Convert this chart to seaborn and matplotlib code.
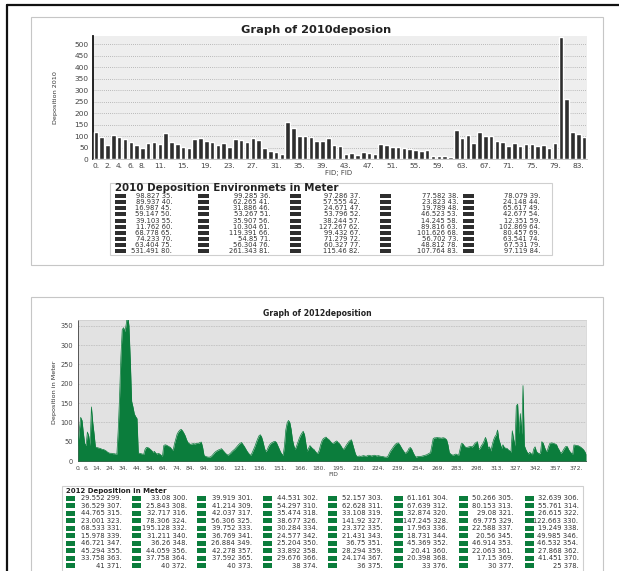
import matplotlib
matplotlib.use("Agg")
import matplotlib.pyplot as plt
from matplotlib.patches import Rectangle
from matplotlib.lines import Line2D
import pandas as pd
import seaborn as sns

# ---------------------------------------------------------------- data
# 2010 deposition per FID (0-84)
dep2010 = [117, 96, 59, 103, 96, 87, 72, 59, 49, 71,
           74, 65, 112, 75, 67, 51, 48, 86, 90, 77,
           74, 59, 71, 51, 88, 84, 75, 93, 83, 46,
           36, 32, 23, 162, 136,
           98.827, 99.285, 97.286, 77.582, 78.079,
           89.937, 62.265, 57.555, 23.823, 24.148,
           16.987, 31.886, 24.671, 19.789, 65.617,
           59.147, 53.267, 53.796, 46.523, 42.677,
           39.103, 35.907, 38.244, 14.245, 12.351,
           11.762, 10.304, 127.267, 89.816, 102.869,
           68.778, 119.391, 99.432, 101.626, 80.457,
           74.233, 54.85, 71.279, 56.702, 63.541,
           63.404, 56.304, 60.327, 48.812, 67.531,
           531.491, 261.343, 115.46, 107.764, 97.119]
ticks2010 = [0, 2, 4, 6, 8, 11, 15, 19, 23, 27, 31, 35, 39, 43, 47, 51,
             55, 59, 63, 67, 71, 75, 79, 83]
legend2010_first = 35

# 2012 deposition per FID (0-379)
dep2012 = [
    40, 80, 113, 105, 72, 45, 40, 75, 65, 40,
    140, 100, 70, 36, 35, 34, 33, 32, 30, 30,
    28, 26, 23, 21, 20, 20, 19, 19, 18, 18,
    80, 165, 270, 340, 345, 335, 355, 380, 350, 262,
    155, 140, 122, 115, 110, 20, 20, 19, 18, 17,
    30, 35, 35, 33, 30, 27, 22, 25, 20, 18,
    20, 18, 15, 12, 40, 42, 41, 39, 37, 35,
    30, 28, 45, 58, 70, 76, 80, 82, 78, 72,
    65, 55, 48, 45, 43, 44, 45, 44, 45, 46,
    46, 48, 49, 35, 15, 12, 11, 10, 10, 11,
    14, 18, 22, 25, 27, 29, 30, 32, 28, 24,
    20, 17, 15, 18, 21, 25, 28, 31, 35, 39,
    43, 46, 48, 43, 38, 32, 26, 21, 17, 15,
    22, 30, 38, 48, 57, 65, 68, 62, 50, 35,
    24, 28, 36, 42, 46, 48, 50, 51, 48, 40,
    32, 24, 18, 15, 38, 80, 98, 105, 100, 82,
    55, 40, 30, 38, 48, 58, 66, 72, 77, 68,
    45, 25, 33, 40, 36, 32, 30, 25, 21, 20,
    28, 42, 52, 58, 60, 62, 58, 56, 52, 48,
    45, 47, 50, 52, 48, 45, 40, 34, 30, 34,
    40, 45, 50, 53, 55, 42, 30, 18, 12, 12,
    13, 12, 13, 14, 13, 12, 14, 15, 14, 13,
    14, 15, 14, 13, 14, 13, 12, 12, 11, 10,
    10, 11, 18, 25, 30, 35, 40, 44, 46, 47,
    42, 36, 30, 25, 20, 22, 26, 33, 35, 30,
    22, 15, 10, 11, 12, 12, 12, 13, 14, 15,
    16, 18, 20, 22, 40, 58, 60, 60, 61, 60,
    60, 59, 60, 60, 58, 55, 42, 22, 18, 16,
    15, 17, 18, 16, 15, 30, 45, 45, 40, 36,
    35, 36, 37, 38, 36, 40, 45, 48, 50,
    29.552, 33.08, 39.919, 44.531, 52.157, 61.161, 50.266, 32.639,
    36.529, 25.843, 41.214, 54.297, 62.628, 67.639, 80.153, 55.761,
    44.765, 32.717, 42.037, 35.474, 33.108, 32.874, 29.08, 26.615,
    23.001, 78.306, 56.306, 38.677, 141.92, 147.245, 69.775, 122.663,
    68.533, 195.128, 39.752, 30.284, 23.372, 17.963, 22.588, 19.249,
    15.978, 31.211, 36.769, 24.577, 21.431, 18.731, 20.56, 49.985,
    46.721, 36.26, 26.884, 25.204, 36.75, 45.369, 46.914, 46.532,
    45.294, 44.059, 42.278, 33.892, 28.294, 20.41, 22.063, 27.868,
    33.758, 37.758, 37.592, 29.676, 24.174, 20.398, 17.15, 41.451,
    41, 40, 40, 38, 36, 33, 30, 25, 18]
ticks2012 = [0, 6, 14, 24, 34, 44, 54, 64, 74, 84, 94, 106, 121, 136, 151,
             166, 180, 195, 210, 224, 239, 254, 269, 283, 298, 313, 327,
             342, 357, 372]
legend2012_first = 299

df10 = pd.DataFrame({"FID": range(len(dep2010)), "dep": dep2010})
df12 = pd.DataFrame({"FID": range(len(dep2012)), "dep": dep2012})

# ---------------------------------------------------------------- figure
W, H = 619, 571
sns.set_style("white")
plt.rcParams["font.family"] = ["DejaVu Sans"]
fig = plt.figure(figsize=(W / 100, H / 100), dpi=100)


def fx(x):
    return x / W


def fy(y):
    return 1 - y / H


def rect_px(x0, y0, x1, y1):
    return [fx(x0), fy(y1), (x1 - x0) / W, (y1 - y0) / H]


def ptext(x, y, s, **kw):
    fig.text(fx(x), fy(y), s, **kw)


def frame(x0, y0, x1, y1, color, lw=0.8):
    fig.add_artist(Rectangle((fx(x0), fy(y1)), (x1 - x0) / W, (y1 - y0) / H,
                             transform=fig.transFigure, fill=False,
                             ec=color, lw=lw))


# page border
fig.add_artist(Line2D([fx(7), 1.0], [fy(5), fy(5)], color="#111111", lw=1.6,
                      transform=fig.transFigure))
fig.add_artist(Line2D([fx(7), fx(7)], [0.0, fy(5)], color="#111111", lw=1.6,
                      transform=fig.transFigure))

# panel frames
frame(31, 17, 603, 265, "#c6c6c6")
frame(31, 297, 603, 575, "#c6c6c6")

narrow = ["Liberation Sans Narrow", "DejaVu Sans"]

# ---------------------------------------------------------------- 2010 bars
ax1 = fig.add_axes(rect_px(93, 36, 587, 159))
ax1.set_facecolor("#eeeeee")
sns.barplot(data=df10, x="FID", y="dep", color="#2e2e2e", width=0.78,
            saturation=1, ax=ax1, zorder=3)
ax1.set_ylim(0, 535)
ax1.set_xlim(-0.5, len(dep2010) - 0.5)
ax1.set_yticks(range(0, 501, 50))
ax1.set_xticks(ticks2010)
ax1.set_xticklabels([f"{t}." for t in ticks2010])
ax1.yaxis.grid(True, linestyle=(0, (1, 1.5)), color="#a8a8a8", lw=0.6, zorder=0)
ax1.set_axisbelow(True)
ax1.tick_params(axis="both", labelsize=5.4, colors="#444444", length=2,
                width=0.6, pad=1.2)
for s in ("top", "right"):
    ax1.spines[s].set_visible(False)
ax1.spines["left"].set_color("#111111")
ax1.spines["left"].set_linewidth(1.3)
ax1.spines["bottom"].set_color("#bbbbbb")
ax1.spines["bottom"].set_linewidth(0.6)
ax1.set_xlabel("")
ax1.set_ylabel("")
ptext(55, 98, "Deposition 2010", rotation=90, ha="center", va="center",
      fontsize=4.6, family=narrow, color="#333333")
ptext(339, 173.5, "FID; FID", ha="center", va="center", fontsize=5.0,
      color="#444444")
ptext(316, 30, "Graph of 2010deposion", ha="center", va="center",
      fontsize=8.2, fontweight="bold", color="#222222")

# 2010 legend table
frame(110, 183, 552, 255, "#cfcfcf", lw=0.8)
ptext(115, 188, "2010 Deposition Environmets in Meter", ha="left",
      va="center", fontsize=7.4, fontweight="bold", color="#222222")
sw_x10 = [115, 198, 290, 380, 463]
txt_end10 = [172, 270, 360, 458, 540]
for k, v in enumerate(dep2010[legend2010_first:]):
    r, c = divmod(k, 5)
    y = 196 + 6.15 * r
    fig.add_artist(Rectangle((fx(sw_x10[c]), fy(y + 2)), 11 / W, 4 / H,
                             transform=fig.transFigure, fc="#2e2e2e",
                             ec="none"))
    ptext(txt_end10[c], y, f"{v:g} {legend2010_first + k}.", ha="right",
          va="center", fontsize=4.9, color="#333333")

# ---------------------------------------------------------------- 2012 area
green = "#0b7d3c"
ax2 = fig.add_axes(rect_px(78, 320, 586, 461))
ax2.set_facecolor("#e2e2e2")
ax2.fill_between(df12["FID"], df12["dep"], color=green, lw=0, zorder=3)
sns.lineplot(data=df12, x="FID", y="dep", color=green, lw=0.5, ax=ax2,
             zorder=4)
ax2.set_xlim(0, len(dep2012) - 1)
ax2.set_ylim(0, 365)
ax2.set_yticks(range(0, 351, 50))
ax2.set_xticks(ticks2012)
ax2.set_xticklabels([f"{t}." for t in ticks2012])
ax2.yaxis.grid(True, linestyle=(0, (2, 1)), color="#c2c2c2", lw=0.6, zorder=0)
ax2.set_axisbelow(True)
ax2.tick_params(axis="y", labelsize=4.8, colors="#444444", length=2,
                width=0.6, pad=1.5)
ax2.tick_params(axis="x", labelsize=4.3, colors="#444444", length=2,
                width=0.6, pad=1.5)
for s in ("top", "right"):
    ax2.spines[s].set_color("#cccccc")
    ax2.spines[s].set_linewidth(0.5)
for s in ("left", "bottom"):
    ax2.spines[s].set_color("#555555")
    ax2.spines[s].set_linewidth(0.7)
ax2.set_xlabel("")
ax2.set_ylabel("")
ptext(54, 392, "Deposition in Meter", rotation=90, ha="center", va="center",
      fontsize=4.6, family=narrow, color="#333333")
ptext(333, 474, "FID", ha="center", va="center", fontsize=4.3,
      color="#444444")
ptext(317, 313, "Graph of 2012deposition", ha="center", va="center",
      fontsize=5.6, fontweight="bold", color="#222222")

# 2012 legend table
frame(62, 486, 583, 580, "#cfcfcf", lw=0.8)
ptext(66, 491.5, "2012 Deposition in Meter", ha="left", va="center",
      fontsize=5.0, fontweight="bold", color="#222222")
for k, v in enumerate(dep2012[legend2012_first:legend2012_first + 80]):
    r, c = divmod(k, 8)
    y = 498 + 7.55 * r
    fig.add_artist(Rectangle((fx(66 + 65.5 * c), fy(y + 2.5)), 9 / W, 5 / H,
                             transform=fig.transFigure, fc=green, ec="none"))
    ptext(122 + 65.2 * c, y, f"{v:g} {legend2012_first + k}.", ha="right",
          va="center", fontsize=4.9, color="#333333")

fig.savefig("out.png", dpi=100)
